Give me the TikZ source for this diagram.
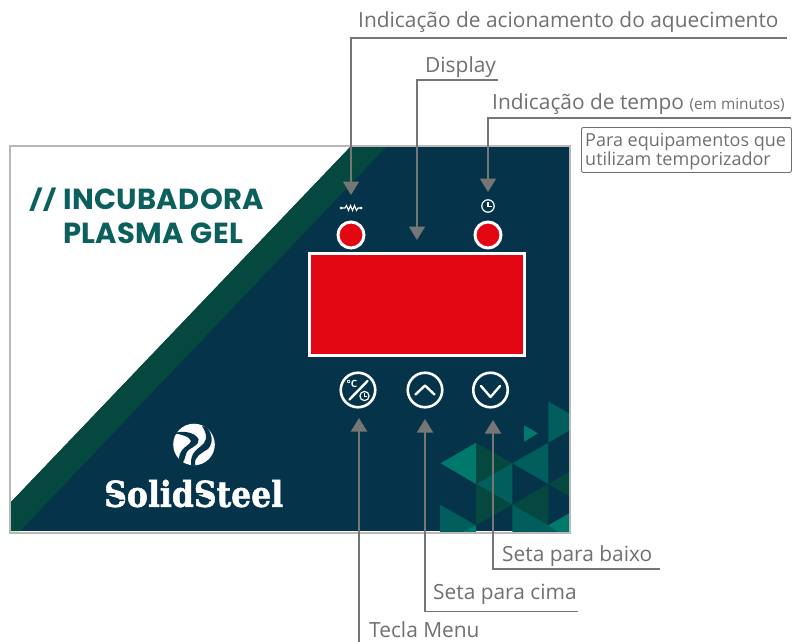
\documentclass[tikz,border=0pt]{standalone}
\usepackage{fontspec}
\setmainfont{Open Sans}
\newfontfamily\titlefont[LetterSpace=1.2]{Poppins}
\newfontfamily\logofont[FakeBold=1.6]{DejaVu Serif Bold}
\usetikzlibrary{arrows.meta}
\definecolor{panelbg}{HTML}{04334A}
\definecolor{bandgreen}{HTML}{05483F}
\definecolor{framegray}{HTML}{B9B9B9}
\definecolor{leadgray}{HTML}{767676}
\definecolor{textgray}{HTML}{707070}
\definecolor{ledred}{HTML}{E30613}
\definecolor{titleteal}{HTML}{0B5F5C}
\definecolor{tribright}{HTML}{00786B}
\definecolor{trimid}{HTML}{005F5D}
\tikzset{
  leader/.style={draw=leadgray,line width=1.9pt,line join=miter},
  pointer/.style={leader,-{Triangle[width=16pt,length=13.5pt,color=leadgray]}},
  lbl/.style={anchor=base west,inner sep=0pt,text=textgray,font=\fontsize{20.9}{24}\selectfont},
  boxlbl/.style={lbl,font=\fontsize{18}{20}\selectfont},
  led/.style={circle,draw=white,line width=3pt,fill=ledred,minimum size=26pt,inner sep=0pt},
  keybtn/.style={circle,draw=white,line width=2.6pt,minimum size=34.5pt,inner sep=0pt},
  icon/.style={draw=white,line width=2.4pt,line cap=round,line join=round},
  thin icon/.style={draw=white,line width=1.2pt},
  titletxt/.style={anchor=base west,inner sep=0pt,text=titleteal,font=\titlefont\bfseries\fontsize{29}{33}\selectfont},
  slashtxt/.style={anchor=base west,inner sep=0pt,text=titleteal,font=\bfseries\fontsize{33}{36}\selectfont}
}
\begin{document}
\begin{tikzpicture}[x=1pt,y=-1pt]
\useasboundingbox (0,0) rectangle (792,642);
% panel
\fill[panelbg] (9,145) rectangle (569,531);
\fill[white] (9,145) -- (352,145) -- (9,504) -- cycle;
\fill[bandgreen] (352,145) -- (388,145) -- (20,531) -- (9,531) -- (9,504) -- cycle;
% triangles
\begin{scope}
\clip (9,145) rectangle (569,531);
\fill[tribright] (440.7,463.3) -- (476,442.7) -- (476,484) -- cycle;
\fill[bandgreen] (476,442.7) -- (512.3,463.3) -- (476,484) -- cycle;
\fill[trimid] (512.3,463.3) -- (476,484) -- (512.3,504.7) -- cycle;
\fill[bandgreen] (476,484) -- (512.3,504.7) -- (476,525.3) -- cycle;
\fill[trimid] (512.3,463.3) -- (548.3,442.7) -- (548.3,484) -- cycle;
\fill[trimid] (548.3,401.3) -- (584,422) -- (548.3,442.7) -- cycle;
\fill[tribright] (524,425.3) -- (538,433.3) -- (524,441.7) -- cycle;
\fill[bandgreen] (512.3,504.7) -- (548.3,484) -- (548.3,525.3) -- cycle;
\fill[bandgreen] (548.3,484) -- (584,463.3) -- (584,504.7) -- cycle;
\fill[trimid] (512.3,504.7) -- (548.3,525.3) -- (560,532) -- (512.3,532) -- cycle;
\fill[tribright] (548.3,525.3) -- (584,504.7) -- (584,532) -- (558,532) -- cycle;
\fill[trimid] (440,504.7) -- (476,525.3) -- (464,532) -- (440,532) -- cycle;
\fill[tribright] (464,532) -- (476,525.3) -- (476,532) -- cycle;
\end{scope}
\node[draw=framegray,line width=2pt,minimum width=560pt,minimum height=387pt,inner sep=0pt,anchor=north west] (panel) at (9,144.5) {};
% title
\node[slashtxt] (slashes) at (29,211) {//};
\node[titletxt] (title1) at (63,209) {INCUBADORA};
\node[titletxt] (title2) at (63,243) {PLASMA GEL};
% logo
\fill[white] (194,444.5) circle (20.8);
\fill[panelbg] (172,430) .. controls (178,428) and (180,428) .. (184,424) -- (173,422) -- cycle;
\fill[panelbg] (173,433.5) .. controls (182,434) and (190,437) .. (191,441)
   .. controls (191,445) and (180,447) .. (179,458)
   .. controls (179,461) and (180,462) .. (181,463)
   .. controls (187,462) and (183,453) .. (190,449)
   .. controls (197,445) and (202,441) .. (196,436)
   .. controls (190,431) and (180,431) .. cycle;
\fill[panelbg] (202,426) .. controls (206,432) and (208,438) .. (204,443)
   .. controls (199,449) and (190,451) .. (191,465)
   .. controls (194,466) and (195,466) .. (195,465)
   .. controls (194,456) and (202,453) .. (208,449)
   .. controls (214,443) and (212,432) .. (206,427) -- cycle;
\node[anchor=south west,inner sep=0pt,text=white] (brand) at (104,507.5)
  {\resizebox{179pt}{27pt}{\logofont SolidSteel}};
\fill[panelbg] (104,493) rectangle (115,494.5) (192,493) rectangle (203,494.5);
\fill[panelbg] (113,499.5) rectangle (124,501) (201,499.5) rectangle (211,501);
% LEDs and display
\node[led] (ledheat) at (351,235) {};
\node[led] (ledtime) at (488,235) {};
\node[draw=white,line width=3pt,fill=ledred,minimum width=215pt,minimum height=102pt,inner sep=0pt] (display) at (417,304.5) {};
% resistor icon
\draw[white,line width=1.1pt] (342,208) -- (345,208) -- (346.5,205.5) -- (348.5,210.5) -- (350.5,205.5) -- (352.5,210.5) -- (354.5,205.5) -- (356.5,210.5) -- (358,208) -- (360,208);
\fill[white] (341,208) circle (1.5) (361,208) circle (1.5);
% clock icon
\draw[thin icon] (488,206) circle (6.2);
\draw[thin icon] (488,202) -- (488,206.5) -- (492,206.5);
% keys
\node[keybtn] (keymenu) at (358,390) {};
\node[keybtn] (keyup) at (425,390) {};
\node[keybtn] (keydown) at (490.5,390) {};
\draw[icon] (349.5,399.5) -- (367.5,381);
\node[text=white,inner sep=0pt,font=\bfseries\fontsize{10}{10}\selectfont] (degc) at (352,384) {°C};
\draw[thin icon] (364.5,396) circle (4.6);
\draw[white,line width=.9pt] (364.5,393) -- (364.5,396.5) -- (367,396.5);
\draw[icon] (415.5,394.5) -- (425,385.5) -- (434.5,394.5);
\draw[icon] (481,386) -- (490.5,397) -- (500,386);
% label text
\node[lbl] (lheat) at (358,28) {Indicação de acionamento do aquecimento};
\node[lbl] (ldisp) at (425,72.5) {Display};
\node[lbl] (ltime) at (492,109.5) {Indicação de tempo {\fontsize{15.4}{17}\selectfont(em minutos)}};
\node[draw=textgray,line width=.9pt,rounded corners=2pt,minimum width=210pt,minimum height=45pt,anchor=north west] (tbox) at (581,127) {};
\node[boxlbl] (tbox1) at (585,146) {Para equipamentos que};
\node[boxlbl] (tbox2) at (585,165) {utilizam temporizador};
\node[lbl] (ldown) at (502,561) {Seta para baixo};
\node[lbl] (lup) at (433,599) {Seta para cima};
\node[lbl] (lmenu) at (369,637) {Tecla Menu};
% connectors
\coordinate (heatend) at (787,38);
\coordinate (heatbend) at (351,38);
\coordinate (heattip) at (351,195);
\coordinate (dispend) at (498,80);
\coordinate (dispbend) at (417,80);
\coordinate (disptip) at (417,240);
\coordinate (timeend) at (791,118);
\coordinate (timebend) at (488,118);
\coordinate (timetip) at (488,192);
\coordinate (downend) at (660,569);
\coordinate (downbend) at (493,569);
\coordinate (downtip) at (493,420);
\coordinate (upend) at (578,611.5);
\coordinate (upbend) at (425,611.5);
\coordinate (uptip) at (425,419);
\coordinate (menuend) at (359,642);
\coordinate (menutip) at (359,418);
\draw[pointer] (heatend) -- (heatbend) -- (heattip);
\draw[pointer] (dispend) -- (dispbend) -- (disptip);
\draw[pointer] (timeend) -- (timebend) -- (timetip);
\draw[pointer] (downend) -- (downbend) -- (downtip);
\draw[pointer] (upend) -- (upbend) -- (uptip);
\draw[pointer] (menuend) -- (menutip);
\end{tikzpicture}
\end{document}
